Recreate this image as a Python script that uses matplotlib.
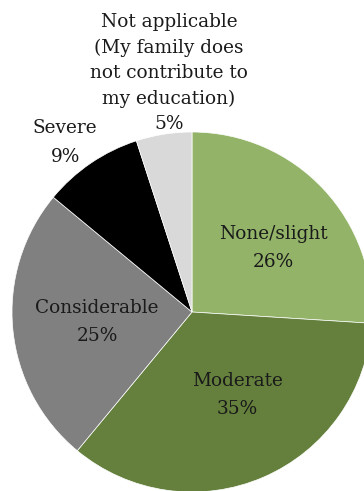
import numpy as np
import matplotlib
matplotlib.use('Agg')
import matplotlib.pyplot as plt

labels = ['None/slight', 'Moderate', 'Considerable', 'Severe',
          'Not applicable\n(My family does\nnot contribute to\nmy education)']
values = [26, 35, 25, 9, 5]
colors = ['#93b468', '#64803c', '#808080', '#000000', '#d9d9d9']
# label placement: distance (in pie radii) and angle shift from wedge middle
label_dist = [0.573, 0.524, 0.531, 1.177, 1.334]
label_shift = [-4.9, 5.1, 0.6, 2.6, -3.5]

plt.rcParams['font.family'] = ['DejaVu Serif']

fig = plt.figure(figsize=(3.64, 4.91), dpi=100)
ax = fig.add_axes([0, 0, 1, 1])

wedges, _ = ax.pie(values, colors=colors, startangle=90, counterclock=False,
                   radius=1.0, wedgeprops=dict(linewidth=0.5, edgecolor='white'))

for w, lab, v, d, s in zip(wedges, labels, values, label_dist, label_shift):
    ang = np.deg2rad((w.theta1 + w.theta2) / 2 + s)
    x, y = d * np.cos(ang), d * np.sin(ang)
    ls = 1.53 if lab.startswith('Not') else 1.74
    ax.text(x, y, lab + '\n' + f'{v}%', ha='center', va='center',
            fontsize=13.3, color='#1a1a1a', linespacing=ls)

# pixel scale: radius = 180 px, centre at (192, 312) from top-left
ax.set_xlim(-192 / 180, (364 - 192) / 180)
ax.set_ylim(-(491 - 312) / 180, 312 / 180)
ax.set_aspect('auto')
ax.axis('off')

fig.savefig('out.png', dpi=100)
